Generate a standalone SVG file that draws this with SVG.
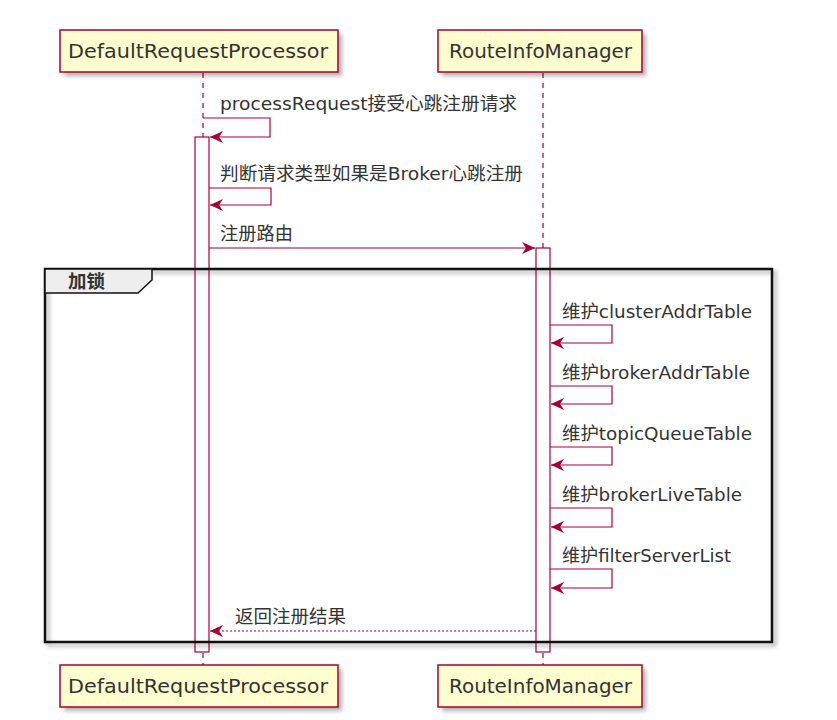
<svg xmlns="http://www.w3.org/2000/svg" width="837" height="720" viewBox="0 0 837 720">
<style>
.part rect.b{fill:#FEFECE;stroke:#A80036;stroke-width:1.5}
.pname{font-family:"DejaVu Sans","Liberation Sans",sans-serif;font-size:20px;fill:#333}
.life{stroke:#A80036;stroke-width:1.2;stroke-dasharray:5,5;fill:none}
.act{fill:#fff;stroke:#A80036;stroke-width:1.2}
.msg{stroke:#A80036;stroke-width:1.2;fill:none}
.dash{stroke-dasharray:2,2}
.lbl{font-family:"DejaVu Sans","Noto Sans CJK SC",sans-serif;font-size:18.5px;fill:#333}
</style>
<defs>
<marker id="ah" markerWidth="14" markerHeight="12" refX="13" refY="6" orient="auto" markerUnits="userSpaceOnUse">
<path d="M0,0 L13,6 L0,12 L4,6 Z" fill="#A80036"/>
</marker>
<filter id="sh" x="-10%" y="-10%" width="130%" height="140%">
<feGaussianBlur stdDeviation="2"/>
</filter>
</defs>
<rect width="837" height="720" fill="#fff"/>

<g id="lifelines">
<line class="life" x1="203" y1="73" x2="203" y2="665"/>
<line class="life" x1="543" y1="73" x2="543" y2="665"/>
</g>

<g id="p-drp-top" class="part">
<rect x="64" y="34" width="278" height="42" fill="#000" opacity="0.3" filter="url(#sh)"/>
<rect class="b" x="60" y="30" width="278" height="42"/>
<text class="pname" x="68" y="58" textLength="260" lengthAdjust="spacingAndGlyphs">DefaultRequestProcessor</text>
</g>
<g id="p-rim-top" class="part">
<rect x="442" y="34" width="204" height="42" fill="#000" opacity="0.3" filter="url(#sh)"/>
<rect class="b" x="438" y="30" width="204" height="42"/>
<text class="pname" x="449" y="58" textLength="183" lengthAdjust="spacingAndGlyphs">RouteInfoManager</text>
</g>
<g id="p-drp-bottom" class="part">
<rect x="64" y="669" width="278" height="42" fill="#000" opacity="0.3" filter="url(#sh)"/>
<rect class="b" x="60" y="665" width="278" height="42"/>
<text class="pname" x="68" y="693" textLength="260" lengthAdjust="spacingAndGlyphs">DefaultRequestProcessor</text>
</g>
<g id="p-rim-bottom" class="part">
<rect x="442" y="669" width="204" height="42" fill="#000" opacity="0.3" filter="url(#sh)"/>
<rect class="b" x="438" y="665" width="204" height="42"/>
<text class="pname" x="449" y="693" textLength="183" lengthAdjust="spacingAndGlyphs">RouteInfoManager</text>
</g>

<g id="activations">
<rect class="act" x="195" y="137" width="14" height="515"/>
<rect class="act" x="536" y="248" width="14" height="404"/>
</g>

<g id="frame">
<rect x="48" y="272" width="727" height="373" fill="none" stroke="#000" stroke-width="3" opacity="0.3" filter="url(#sh)"/>
<rect x="45" y="269" width="727" height="373" fill="none" stroke="#111" stroke-width="2.5"/>
<path d="M45,269 L152,269 L152,280 L138,293 L45,293 Z" fill="#EEEEEE" stroke="#111" stroke-width="1.5"/>
<text class="lbl" x="68" y="288" font-weight="bold" font-size="16">加锁</text>
</g>

<g id="connectors">
<path class="msg" d="M203,118 L270,118 L270,137 L210,137" marker-end="url(#ah)"/>
<text class="lbl" x="220" y="110" textLength="297" lengthAdjust="spacingAndGlyphs">processRequest接受心跳注册请求</text>
<path class="msg" d="M209,188 L271,188 L271,205 L210,205" marker-end="url(#ah)"/>
<text class="lbl" x="220" y="180" textLength="303" lengthAdjust="spacingAndGlyphs">判断请求类型如果是Broker心跳注册</text>
<line class="msg" x1="209" y1="248" x2="535" y2="248" marker-end="url(#ah)"/>
<text class="lbl" x="220" y="240" textLength="73" lengthAdjust="spacingAndGlyphs">注册路由</text>

<path class="msg" d="M550,325 L612,325 L612,343 L551,343" marker-end="url(#ah)"/>
<text class="lbl" x="562" y="318" textLength="190" lengthAdjust="spacingAndGlyphs">维护clusterAddrTable</text>
<path class="msg" d="M550,386 L612,386 L612,404 L551,404" marker-end="url(#ah)"/>
<text class="lbl" x="562" y="379" textLength="188" lengthAdjust="spacingAndGlyphs">维护brokerAddrTable</text>
<path class="msg" d="M550,447 L612,447 L612,465 L551,465" marker-end="url(#ah)"/>
<text class="lbl" x="562" y="440" textLength="190" lengthAdjust="spacingAndGlyphs">维护topicQueueTable</text>
<path class="msg" d="M550,508 L612,508 L612,527 L551,527" marker-end="url(#ah)"/>
<text class="lbl" x="562" y="501" textLength="180" lengthAdjust="spacingAndGlyphs">维护brokerLiveTable</text>
<path class="msg" d="M550,569 L612,569 L612,588 L551,588" marker-end="url(#ah)"/>
<text class="lbl" x="562" y="562" textLength="169" lengthAdjust="spacingAndGlyphs">维护filterServerList</text>

<line class="msg dash" x1="536" y1="631" x2="210" y2="631" marker-end="url(#ah)"/>
<text class="lbl" x="235" y="623" textLength="111" lengthAdjust="spacingAndGlyphs">返回注册结果</text>
</g>
</svg>
